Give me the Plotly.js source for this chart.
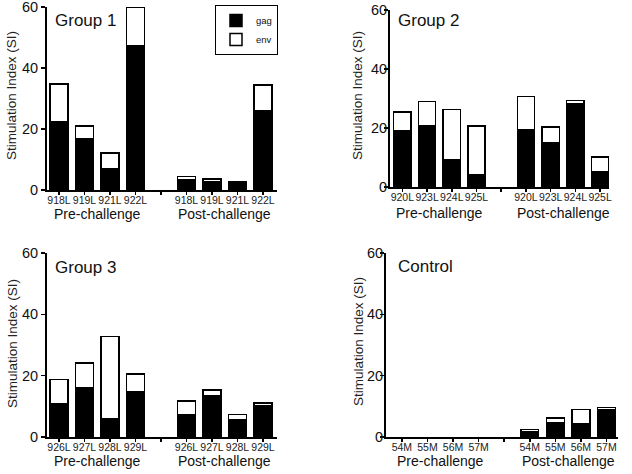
<!DOCTYPE html>
<html>
<head>
<meta charset="utf-8">
<script src="https://cdn.plot.ly/plotly-3.0.1.min.js"></script>
<style>
  html, body { margin: 0; padding: 0; background: #fff; }
  #chart { width: 632px; height: 474px; }
</style>
</head>
<body>
<div id="chart"></div>
<script>
// Animals per panel (same four animals before and after challenge)
const group1Animals = ['918L', '919L', '921L', '922L'];
const group2Animals = ['920L', '923L', '924L', '925L'];
const group3Animals = ['926L', '927L', '928L', '929L'];
const controlAnimals = ['54M', '55M', '56M', '57M'];

// Stimulation index: gag response and env response (stacked on gag)
const group1PreGag  = [22.4, 16.8, 7.0, 47.2];
const group1PreEnv  = [12.4, 4.2, 5.2, 12.8];
const group1PostGag = [3.3, 2.6, 2.0, 26.1];
const group1PostEnv = [1.2, 1.0, 0.6, 8.3];

const group2PreGag  = [19.2, 20.8, 9.3, 4.2];
const group2PreEnv  = [6.2, 8.2, 17.0, 16.4];
const group2PostGag = [19.5, 14.9, 28.1, 5.3];
const group2PostEnv = [11.2, 5.4, 1.3, 4.9];

const group3PreGag  = [10.7, 16.0, 5.8, 14.6];
const group3PreEnv  = [8.1, 8.2, 27.0, 5.9];
const group3PostGag = [7.4, 13.4, 5.7, 10.1];
const group3PostEnv = [4.3, 1.9, 1.6, 1.0];

const controlPreGag  = [0, 0, 0, 0];
const controlPreEnv  = [0, 0, 0, 0];
const controlPostGag = [1.7, 4.7, 4.3, 8.9];
const controlPostEnv = [0.7, 1.5, 4.6, 0.7];

const panelTitles = ['Group 1', 'Group 2', 'Group 3', 'Control'];
const phaseLabels = ['Pre-challenge', 'Post-challenge'];
const seriesNames = ['gag', 'env'];
const yTicks = [0, 20, 40, 60];

// Bar slots: pre-challenge at 0..3, post-challenge at 5..8, a spacer tick at 4
const preSlots = [0, 1, 2, 3];
const postSlots = [5, 6, 7, 8];

const FONT = 'Liberation Sans, Arial, Helvetica, sans-serif';
const W = 632, H = 474;

const panels = [
  { animals: group1Animals, preGag: group1PreGag, preEnv: group1PreEnv, postGag: group1PostGag, postEnv: group1PostEnv,
    px: [47, 277], py: [7, 190], xr: [-0.47, 8.55], standoff: 0, title: [53, 20], ytitle: [12, 96], phaseY: 214 },
  { animals: group2Animals, preGag: group2PreGag, preEnv: group2PreEnv, postGag: group2PostGag, postEnv: group2PostEnv,
    px: [390, 609], py: [10, 187], xr: [-0.5, 8.36], standoff: -6, title: [396, 20], ytitle: [358, 96], phaseY: 213 },
  { animals: group3Animals, preGag: group3PreGag, preEnv: group3PreEnv, postGag: group3PostGag, postEnv: group3PostEnv,
    px: [47, 277], py: [253, 437], xr: [-0.47, 8.55], standoff: 0, title: [53, 267], ytitle: [12, 344], phaseY: 461 },
  { animals: controlAnimals, preGag: controlPreGag, preEnv: controlPreEnv, postGag: controlPostGag, postEnv: controlPostEnv,
    px: [386, 618], py: [253, 437], xr: [-0.62, 8.45], standoff: -6, title: [396, 266], ytitle: [358, 342], phaseY: 461 }
];

// A bar with no height gets no outline, so empty responses leave no mark
const outlineWidths = vals => vals.map(v => (v > 0 ? 1.5 : 0));

const traces = [];
const layout = {
  width: W, height: H,
  margin: { l: 0, r: 0, t: 0, b: 0 },
  paper_bgcolor: '#ffffff', plot_bgcolor: '#ffffff',
  barmode: 'stack',
  bargap: 0.3,
  font: { family: FONT, color: '#111' },
  showlegend: true,
  legend: {
    x: 215 / W, y: 1 - 5 / H, xanchor: 'left', yanchor: 'top',
    bordercolor: '#000', borderwidth: 1, bgcolor: '#fff',
    font: { family: FONT, size: 9.5, color: '#111' },
    itemwidth: 30, tracegroupgap: 0, traceorder: 'normal'
  },
  annotations: []
};

panels.forEach((p, i) => {
  const n = i === 0 ? '' : String(i + 1);
  const xa = 'x' + n, ya = 'y' + n;
  const xs = preSlots.concat(postSlots);
  const gag = p.preGag.concat(p.postGag);
  const env = p.preEnv.concat(p.postEnv);

  traces.push({
    type: 'bar', x: xs, y: gag, xaxis: xa, yaxis: ya,
    name: seriesNames[0], legendgroup: 'gag', showlegend: i === 0,
    marker: { color: '#000', line: { color: '#000', width: outlineWidths(gag) } },
    hoverinfo: 'skip'
  });
  traces.push({
    type: 'bar', x: xs, y: env, xaxis: xa, yaxis: ya,
    name: seriesNames[1], legendgroup: 'env', showlegend: i === 0,
    marker: { color: '#fff', line: { color: '#000', width: outlineWidths(env) } },
    hoverinfo: 'skip'
  });

  layout['xaxis' + n] = {
    domain: [p.px[0] / W, p.px[1] / W],
    anchor: ya,
    range: p.xr,
    tickmode: 'array',
    tickvals: preSlots.concat([4]).concat(postSlots),
    ticktext: p.animals.concat(['']).concat(p.animals),
    tickangle: 0,
    ticks: 'outside', ticklen: 3, tickwidth: 1.5, tickcolor: '#000',
    ticklabelstandoff: -4,
    tickfont: { family: FONT, size: 10.5, color: '#222' },
    showline: true, linecolor: '#000', linewidth: 2,
    showgrid: false, zeroline: false, fixedrange: true
  };
  layout['yaxis' + n] = {
    domain: [1 - p.py[1] / H, 1 - p.py[0] / H],
    anchor: xa,
    range: [0, 60],
    tickmode: 'array', tickvals: yTicks,
    ticks: 'outside', ticklen: 4, tickwidth: 1.5, tickcolor: '#000',
    ticklabelstandoff: p.standoff,
    ticklabeloverflow: 'allow',
    tickfont: { family: FONT, size: 14.5, color: '#111' },
    showline: true, linecolor: '#000', linewidth: 2,
    showgrid: false, zeroline: false, fixedrange: true
  };

  // Panel name
  layout.annotations.push({
    xref: 'paper', yref: 'paper', x: p.title[0] / W, y: 1 - p.title[1] / H,
    xanchor: 'left', yanchor: 'middle', showarrow: false,
    text: panelTitles[i], font: { family: FONT, size: 17, color: '#111' }
  });
  // Y-axis title
  layout.annotations.push({
    xref: 'paper', yref: 'paper', x: p.ytitle[0] / W, y: 1 - p.ytitle[1] / H,
    xanchor: 'center', yanchor: 'middle', showarrow: false, textangle: -90,
    text: 'Stimulation Index (SI)', font: { family: FONT, size: 13.5, color: '#222' }
  });
  // Phase labels under each block of bars
  [1.5, 6.5].forEach((cx, k) => {
    layout.annotations.push({
      xref: xa, yref: 'paper', x: cx, y: 1 - p.phaseY / H,
      xanchor: 'center', yanchor: 'middle', showarrow: false,
      text: phaseLabels[k], font: { family: FONT, size: 14, color: '#111' }
    });
  });
});

Plotly.newPlot('chart', traces, layout, { displayModeBar: false, staticPlot: true });
</script>
</body>
</html>
